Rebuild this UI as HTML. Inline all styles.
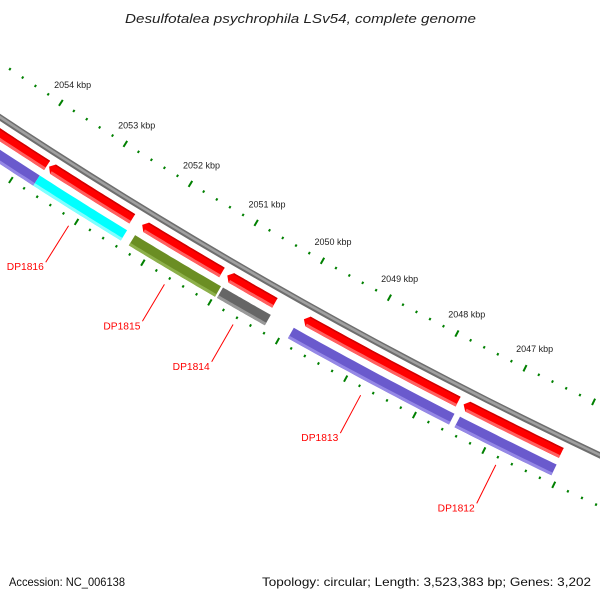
<!DOCTYPE html>
<html><head><meta charset="utf-8">
<style>
html,body{margin:0;padding:0;background:#fff;}
svg{display:block;font-family:"Liberation Sans","DejaVu Sans",sans-serif;}
</style></head>
<body>
<svg id="map" width="600" height="600" viewBox="0 0 600 600" xmlns="http://www.w3.org/2000/svg">
<rect width="600" height="600" fill="#fff"/>
<g id="layer"></g>
<text x="125" y="23" textLength="351" lengthAdjust="spacingAndGlyphs" font-size="13" font-style="italic" fill="#222">Desulfotalea psychrophila LSv54, complete genome</text>
<text x="9" y="586" textLength="116" lengthAdjust="spacingAndGlyphs" font-size="12" fill="#111">Accession: NC_006138</text>
<text x="262" y="586" textLength="329" lengthAdjust="spacingAndGlyphs" font-size="12" fill="#111">Topology: circular; Length: 3,523,383 bp; Genes: 3,202</text>
</svg>
<script>
// data (kbp)
const fwdStarts = [2055.5, 2053.68, 2052.26, 2050.98, 2049.84, 2047.50];
const fwdEnds   = [2053.71, 2052.41, 2051.06, 2050.27, 2047.58, 2046.09];
const revStarts = [2055.5, 2053.72, 2052.27, 2050.95, 2049.90, 2047.47];
const revEnds   = [2053.72, 2052.39, 2050.98, 2050.24, 2047.55, 2046.08];
const revColors = ['#6a5acd', '#00ffff', '#6b8e23', '#666666', '#6a5acd', '#6a5acd'];
const revLight  = ['#9588e6', '#80ffff', '#8db04a', '#999999', '#9588e6', '#9588e6'];
const geneNames = ['DP1816', 'DP1815', 'DP1814', 'DP1813', 'DP1812'];
const geneMids  = [2053.06, 2051.62, 2050.6, 2048.73, 2046.78];
const tickMajors = [2054, 2053, 2052, 2051, 2050, 2049, 2048, 2047];

const CX = 2681, CY = -3941;
function ang(bp){ return (26.58 + (bp - 2047) * 0.9086) * Math.PI / 180; }
function pt(bp, r){ const a = ang(bp); return [CX - r * Math.sin(a), CY + r * Math.cos(a)]; }
const layer = document.getElementById('layer');
const NS = 'http://www.w3.org/2000/svg';
function mk(tag, attrs){ const e = document.createElementNS(NS, tag); for (const k in attrs) e.setAttribute(k, attrs[k]); layer.appendChild(e); return e; }
function band(b1, b2, r1, r2){
  const pts = []; const n = 24;
  for (let i = 0; i <= n; i++){ pts.push(pt(b1 + (b2 - b1) * i / n, r1)); }
  for (let i = n; i >= 0; i--){ pts.push(pt(b1 + (b2 - b1) * i / n, r2)); }
  return pts.map(p => p[0].toFixed(1) + ',' + p[1].toFixed(1)).join(' ');
}
function arrow(b1, b2, r1, r2){
  const tip = 0.06; const pts = []; const n = 24;
  const bs = b1 - tip;
  pts.push(pt(b1, (r1 + r2) / 2));
  for (let i = 0; i <= n; i++){ pts.push(pt(bs + (b2 - bs) * i / n, r1)); }
  for (let i = n; i >= 0; i--){ pts.push(pt(bs + (b2 - bs) * i / n, r2)); }
  return pts.map(p => p[0].toFixed(1) + ',' + p[1].toFixed(1)).join(' ');
}
// backbone
let e = mk('polygon', {points: band(2044, 2057, 4861, 4867), fill: '#6e6e6e'});


e = mk('polygon', {points: band(2044, 2057, 4862.5, 4865), fill: '#a0a0a0'});


// ticks
for (let k = 20440; k <= 20560; k += 2){
  const bp = k / 10; const major = (k % 10 === 0);
  const a1 = pt(bp, major ? 4815 : 4817), a2 = pt(bp, major ? 4822 : 4819.5);
  e = mk('line', {x1: a1[0], y1: a1[1], x2: a2[0], y2: a2[1], stroke: '#008000', 'stroke-width': 2});
  
  
  const b1 = pt(bp, major ? 4907 : 4909), b2 = pt(bp, major ? 4914 : 4911.5);
  e = mk('line', {x1: b1[0], y1: b1[1], x2: b2[0], y2: b2[1], stroke: '#008000', 'stroke-width': 2});
  
  
}
tickMajors.forEach(bp => {
  const p = pt(bp, 4797);
  e = mk('text', {x: p[0].toFixed(1), y: (p[1] + 3).toFixed(1), 'text-anchor': 'middle', 'font-size': 9, fill: '#222'});
  e.textContent = bp + ' kbp';
  
  
});
// forward features
for (let i = 0; i < fwdStarts.length; i++){
  e = mk('polygon', {points: arrow(fwdStarts[i], fwdEnds[i], 4873, 4884), fill: '#ff0000'});
  
  
  e = mk('polygon', {points: band(fwdStarts[i] - 0.06, fwdEnds[i], 4881, 4884), fill: '#ff6060'});
  
  
  e = mk('polygon', {points: band(fwdStarts[i] - 0.06, fwdEnds[i], 4873, 4874.5), fill: '#d00000'});
  
  
}
// reverse features
for (let i = 0; i < revStarts.length; i++){
  e = mk('polygon', {points: band(revStarts[i], revEnds[i], 4891, 4903), fill: revColors[i]});
  
  
  e = mk('polygon', {points: band(revStarts[i], revEnds[i], 4900, 4903), fill: revLight[i]});
  
  
}
// gene labels
for (let i = 0; i < geneNames.length; i++){
  const p1 = pt(geneMids[i], 4918), p2 = pt(geneMids[i], 4961);
  e = mk('line', {x1: p1[0], y1: p1[1], x2: p2[0], y2: p2[1], stroke: '#ff0000', 'stroke-width': 1});
  
  
  e = mk('text', {x: (p2[0] - 39).toFixed(1), y: (p2[1] + 8).toFixed(1), 'font-size': 10, fill: '#ff0000', textLength: 37, lengthAdjust: 'spacingAndGlyphs'});
  e.textContent = geneNames[i];
  
  
}
</script>
</body></html>
